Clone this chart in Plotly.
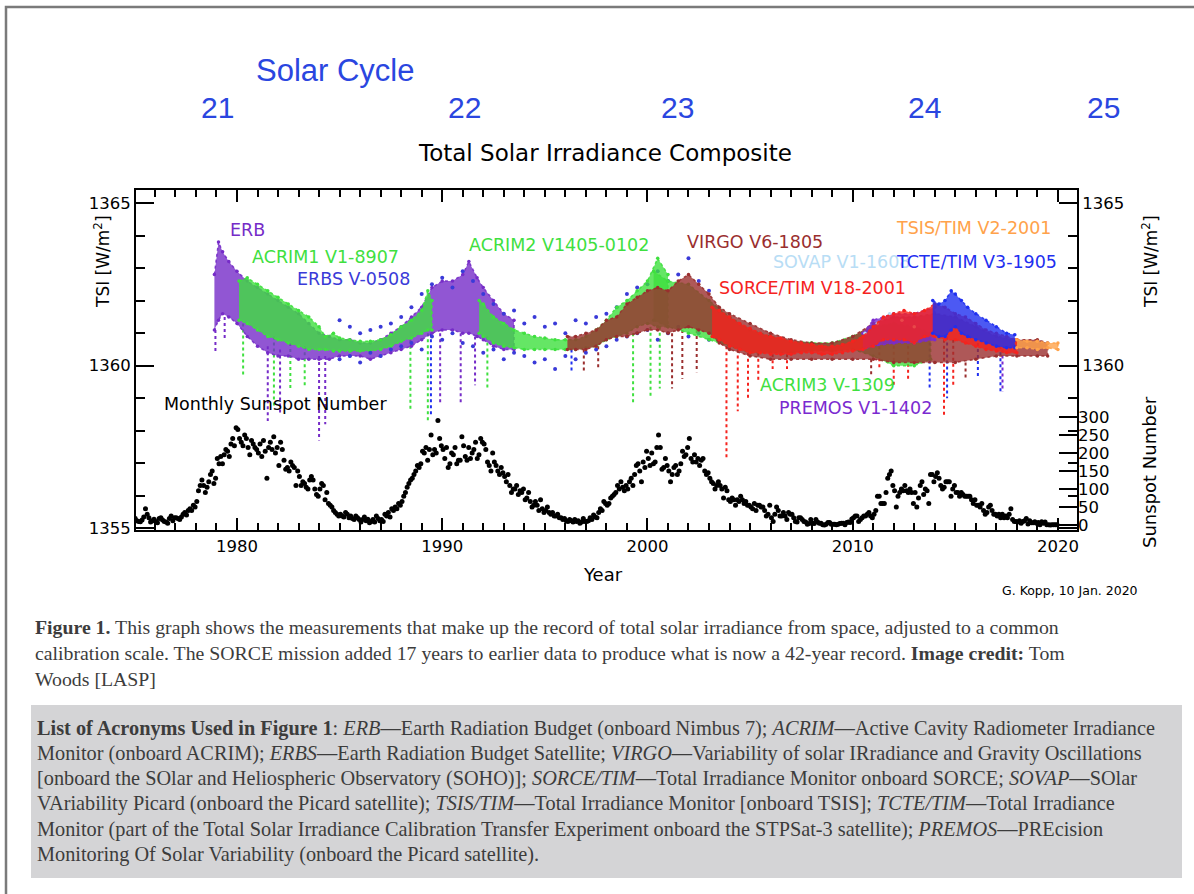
import plotly.graph_objects as go

# ---------------- data ----------------
sunspot_start_year = 1975
sunspot_monthly = [
    18, 12, 10, 9, 14, 22, 45, 30, 20, 8, 12, 16,          # 1975
    10, 6, 18, 20, 14, 10, 8, 5, 18, 25, 12, 20,           # 1976
    20, 18, 15, 22, 30, 35, 28, 40, 45, 40, 55, 50,        # 1977
    65, 95, 110, 125, 110, 90, 105, 120, 140, 150, 115, 130,  # 1978
    185, 170, 190, 170, 195, 210, 205, 190, 225, 240, 220, 270,  # 1979
    265, 240, 230, 220, 250, 240, 215, 195, 235, 225, 215, 210,  # 1980
    200, 225, 190, 235, 205, 130, 215, 230, 210, 245, 200, 215,  # 1981
    165, 230, 210, 180, 155, 160, 150, 175, 165, 160, 110, 150,  # 1982
    135, 110, 120, 115, 105, 100, 125, 135, 125, 100, 85, 80,    # 1983
    100, 115, 110, 70, 90, 60, 55, 50, 40, 35, 30, 25,     # 1984
    30, 25, 22, 35, 30, 20, 25, 18, 15, 25, 20, 15,        # 1985
    8, 15, 22, 12, 16, 6, 10, 15, 8, 25, 18, 12,           # 1986
    15, 10, 30, 25, 35, 22, 45, 40, 50, 45, 60, 55,        # 1987
    65, 80, 90, 105, 115, 125, 130, 140, 150, 165, 160, 170,  # 1988
    205, 200, 215, 180, 210, 250, 195, 210, 200, 290, 240, 220,  # 1989
    210, 185, 215, 160, 170, 200, 195, 215, 170, 180, 180, 245,  # 1990
    220, 190, 180, 215, 185, 200, 210, 230, 185, 195, 240, 230,  # 1991
    225, 210, 175, 165, 150, 200, 175, 165, 150, 140, 160, 145,  # 1992
    135, 120, 140, 110, 90, 100, 100, 110, 85, 95, 90, 100,      # 1993
    70, 75, 90, 65, 50, 55, 65, 55, 40, 70, 45, 35,        # 1994
    40, 50, 35, 30, 35, 25, 25, 30, 20, 20, 15, 18,        # 1995
    12, 10, 15, 12, 8, 15, 10, 12, 5, 8, 18, 10,           # 1996
    10, 12, 20, 15, 28, 22, 20, 35, 45, 40, 65, 60,        # 1997
    55, 60, 75, 80, 85, 90, 110, 100, 120, 105, 95, 110,   # 1998
    100, 120, 130, 110, 140, 165, 170, 150, 120, 175, 160, 205,  # 1999
    185, 165, 200, 170, 175, 215, 250, 215, 155, 160, 185, 165,  # 2000
    150, 120, 140, 160, 165, 140, 150, 170, 205, 190, 195, 215,  # 2001
    240, 185, 175, 195, 175, 185, 165, 180, 185, 150, 140, 145,  # 2002
    130, 120, 115, 100, 110, 120, 110, 100, 75, 105, 95, 70,     # 2003
    65, 75, 70, 55, 70, 65, 80, 70, 60, 65, 55, 55,        # 2004
    50, 45, 60, 40, 55, 55, 50, 50, 40, 25, 30, 55,        # 2005
    20, 10, 30, 50, 40, 25, 25, 35, 25, 15, 35, 30,        # 2006
    30, 20, 10, 8, 20, 20, 15, 10, 8, 2, 4, 15,            # 2007
    5, 4, 15, 8, 5, 5, 1, 0, 2, 7, 7, 2,                   # 2008
    2, 2, 1, 2, 4, 5, 5, 1, 7, 8, 7, 17,                   # 2009
    20, 25, 25, 10, 15, 20, 25, 25, 30, 35, 25, 20,        # 2010
    30, 40, 80, 80, 60, 60, 60, 90, 130, 140, 150, 110,    # 2011
    95, 50, 80, 90, 100, 95, 110, 95, 90, 100, 90, 60,     # 2012
    90, 50, 75, 110, 120, 85, 100, 95, 60, 140, 140, 120,  # 2013
    135, 145, 130, 110, 100, 105, 120, 120, 120, 80, 100, 110,  # 2014
    90, 90, 80, 90, 85, 80, 80, 80, 80, 70, 60, 70,        # 2015
    55, 55, 50, 60, 40, 30, 35, 50, 55, 40, 30, 30,        # 2016
    25, 30, 20, 30, 20, 25, 20, 30, 45, 15, 10, 10,        # 2017
    8, 12, 5, 10, 12, 18, 3, 12, 6, 6, 9, 5,               # 2018
    7, 1, 9, 5, 8, 1, 1, 0, 1, 1, 1, 1,                    # 2019
]

# TSI instrument envelopes (upper / lower edge of each dense point cloud)
erb_years = [1978.9, 1979.1, 1979.3, 1979.6, 1980.0, 1980.5, 1981.0, 1981.5, 1982.0, 1982.5, 1983.0,
             1983.5, 1984.0, 1984.5, 1985.0, 1985.5, 1986.0, 1986.5, 1987.0, 1987.5, 1988.0, 1988.5,
             1989.0, 1989.5, 1990.0, 1990.5, 1991.0, 1991.3, 1991.7, 1992.0, 1992.5, 1993.0, 1993.5]
erb_hi = [1362.8, 1363.8, 1363.5, 1363.2, 1362.9, 1362.6, 1362.4, 1362.2, 1362.0, 1361.8, 1361.6,
          1361.3, 1361.0, 1360.9, 1360.8, 1360.8, 1360.7, 1360.7, 1360.8, 1361.0, 1361.2, 1361.5,
          1361.8, 1362.4, 1362.6, 1362.6, 1362.8, 1363.2, 1362.7, 1362.4, 1362.0, 1361.6, 1361.4]
erb_lo = [1361.1, 1361.4, 1361.6, 1361.5, 1361.3, 1360.9, 1360.6, 1360.4, 1360.3, 1360.3, 1360.2,
          1360.2, 1360.2, 1360.2, 1360.3, 1360.3, 1360.3, 1360.2, 1360.3, 1360.4, 1360.5, 1360.6,
          1360.8, 1361.0, 1361.1, 1361.1, 1361.0, 1361.0, 1360.9, 1360.8, 1360.6, 1360.5, 1360.5]

acrim1_years = [1980.1, 1980.5, 1981.0, 1981.5, 1982.0, 1982.5, 1983.0, 1983.5, 1984.0, 1984.3, 1984.7,
                1985.0, 1985.5, 1986.0, 1986.5, 1987.0, 1987.5, 1988.0, 1988.5, 1989.0, 1989.3, 1989.5]
acrim1_hi = [1362.6, 1362.7, 1362.5, 1362.3, 1362.1, 1361.9, 1361.7, 1361.5, 1361.2, 1360.9, 1361.0,
             1360.85, 1360.8, 1360.75, 1360.75, 1360.8, 1360.95, 1361.2, 1361.4, 1361.7, 1362.3, 1362.0]
acrim1_lo = [1361.4, 1361.3, 1361.1, 1360.9, 1360.8, 1360.7, 1360.6, 1360.5, 1360.5, 1360.5, 1360.45,
             1360.45, 1360.45, 1360.45, 1360.45, 1360.5, 1360.6, 1360.75, 1360.85, 1361.0, 1361.1, 1361.1]

erbs_years = [1985.0, 1985.5, 1986.0, 1986.5, 1987.0, 1987.5, 1988.0, 1988.5, 1989.0, 1989.5, 1990.0,
              1990.5, 1991.0, 1991.5, 1992.0, 1992.5, 1993.0, 1993.5, 1994.0, 1994.5, 1995.0, 1995.5,
              1996.0, 1996.5, 1997.0, 1997.5, 1998.0, 1998.5, 1999.0, 1999.5, 2000.0, 2000.5, 2001.0,
              2001.5, 2002.0, 2002.5, 2003.0]
erbs_hi = [1361.4, 1361.2, 1361.0, 1361.1, 1361.2, 1361.3, 1361.5, 1361.8, 1362.2, 1362.5, 1362.7,
           1362.4, 1362.9, 1362.6, 1362.2, 1361.9, 1361.6, 1361.7, 1361.3, 1361.5, 1361.2, 1361.3,
           1361.0, 1361.4, 1361.3, 1361.5, 1361.6, 1361.8, 1362.2, 1362.4, 1362.5, 1362.9, 1362.6,
           1362.8, 1363.3, 1362.6, 1362.3]
erbs_lo = [1360.2, 1360.3, 1360.1, 1360.4, 1360.3, 1360.5, 1360.6, 1360.7, 1360.5, 1360.9, 1360.8,
           1361.0, 1360.7, 1360.6, 1360.4, 1360.5, 1360.2, 1360.4, 1360.3, 1360.1, 1360.2, 1359.9,
           1360.3, 1360.2, 1360.4, 1360.5, 1360.6, 1360.8, 1360.9, 1361.0, 1361.1, 1360.8, 1361.0,
           1361.2, 1360.9, 1361.0, 1360.8]

acrim2_years = [1991.8, 1992.0, 1992.5, 1993.0, 1993.5, 1994.0, 1994.5, 1995.0, 1995.5, 1996.0,
                1996.5, 1997.0, 1997.5, 1998.0, 1998.5, 1999.0, 1999.5, 2000.0, 2000.5, 2001.0]
acrim2_hi = [1362.0, 1361.9, 1361.5, 1361.3, 1361.1, 1361.0, 1360.9, 1360.85, 1360.8, 1360.8,
             1360.8, 1360.9, 1361.1, 1361.4, 1361.8, 1362.0, 1362.3, 1362.6, 1363.3, 1362.8]
acrim2_lo = [1361.0, 1360.9, 1360.7, 1360.6, 1360.55, 1360.5, 1360.5, 1360.5, 1360.5, 1360.5,
             1360.5, 1360.55, 1360.6, 1360.8, 1360.9, 1361.0, 1361.2, 1361.3, 1361.2, 1361.2]

acrim3_years = [2000.3, 2001.0, 2002.0, 2003.0, 2004.0, 2005.0, 2006.0, 2007.0, 2008.0, 2009.0,
                2010.0, 2011.0, 2012.0, 2013.0, 2013.8]
acrim3_hi = [1362.9, 1362.6, 1362.5, 1362.0, 1361.5, 1361.1, 1360.9, 1360.75, 1360.7, 1360.7,
             1360.9, 1361.2, 1361.3, 1361.2, 1361.0]
acrim3_lo = [1361.4, 1361.2, 1361.0, 1360.8, 1360.6, 1360.4, 1360.4, 1360.4, 1360.45, 1360.45,
             1360.5, 1360.3, 1360.0, 1360.0, 1360.2]

virgo_years = [1996.1, 1996.5, 1997.0, 1997.5, 1998.0, 1998.5, 1999.0, 1999.5, 2000.0, 2000.5, 2001.0,
               2001.5, 2002.0, 2002.5, 2003.0, 2003.5, 2004.0, 2005.0, 2006.0, 2007.0, 2008.0, 2009.0,
               2010.0, 2011.0, 2012.0, 2013.0, 2014.0, 2015.0, 2016.0, 2017.0, 2018.0, 2019.0, 2019.5]
virgo_hi = [1360.9, 1360.9, 1361.0, 1361.1, 1361.4, 1361.5, 1361.9, 1362.1, 1362.3, 1362.4, 1362.3,
            1362.6, 1362.8, 1362.5, 1362.2, 1361.8, 1361.6, 1361.3, 1361.0, 1360.8, 1360.7, 1360.7,
            1360.9, 1361.3, 1361.5, 1361.5, 1361.6, 1361.5, 1361.2, 1360.9, 1360.8, 1360.8, 1360.7]
virgo_lo = [1360.5, 1360.5, 1360.5, 1360.6, 1360.8, 1360.9, 1360.9, 1361.0, 1361.1, 1361.1, 1361.0,
            1361.1, 1361.2, 1361.1, 1361.0, 1360.7, 1360.5, 1360.3, 1360.2, 1360.2, 1360.2, 1360.2,
            1360.2, 1360.2, 1360.1, 1360.1, 1360.1, 1360.1, 1360.2, 1360.3, 1360.3, 1360.3, 1360.3]

premos_years = [2010.5, 2011.0, 2012.0, 2013.0, 2014.0]
premos_hi = [1361.0, 1361.4, 1361.6, 1361.6, 1361.8]
premos_lo = [1360.5, 1360.6, 1360.7, 1360.7, 1360.8]

sovap_years = [2010.6, 2011.2, 2011.8, 2012.4, 2013.0]
sovap_tsi = [1361.0, 1361.3, 1361.6, 1361.4, 1361.2]

sorce_years = [2003.15, 2003.5, 2004.0, 2004.5, 2005.0, 2005.5, 2006.0, 2006.5, 2007.0, 2007.5, 2008.0,
               2008.5, 2009.0, 2009.5, 2010.0, 2010.5, 2011.0, 2011.5, 2012.0, 2012.5, 2013.0, 2013.5,
               2014.0, 2014.5, 2015.0, 2015.5, 2016.0, 2016.5, 2017.0, 2017.5, 2018.0]
sorce_hi = [1361.8, 1361.7, 1361.5, 1361.3, 1361.15, 1361.0, 1360.9, 1360.85, 1360.75, 1360.7, 1360.65,
            1360.6, 1360.6, 1360.65, 1360.75, 1360.9, 1361.2, 1361.5, 1361.6, 1361.7, 1361.6, 1361.7,
            1361.9, 1361.8, 1361.6, 1361.5, 1361.3, 1361.1, 1361.0, 1360.9, 1360.8]
sorce_lo = [1360.9, 1360.8, 1360.6, 1360.5, 1360.4, 1360.4, 1360.35, 1360.35, 1360.35, 1360.4, 1360.4,
            1360.35, 1360.35, 1360.4, 1360.45, 1360.5, 1360.6, 1360.8, 1360.8, 1360.8, 1360.7, 1360.9,
            1360.9, 1360.8, 1360.8, 1360.7, 1360.6, 1360.5, 1360.45, 1360.4, 1360.4]

tcte_years = [2013.9, 2014.2, 2014.5, 2014.8, 2015.0, 2015.3, 2015.6, 2016.0, 2016.5, 2017.0, 2017.5, 2017.9]
tcte_hi = [1362.0, 1361.9, 1362.0, 1362.3, 1362.2, 1362.0, 1361.8, 1361.6, 1361.4, 1361.2, 1361.0, 1360.95]
tcte_lo = [1361.0, 1360.9, 1360.9, 1361.1, 1361.2, 1361.0, 1360.9, 1360.8, 1360.7, 1360.6, 1360.55, 1360.55]

tsis_years = [2018.0, 2018.5, 2019.0, 2019.5, 2020.0]
tsis_hi = [1360.8, 1360.75, 1360.75, 1360.7, 1360.7]
tsis_lo = [1360.55, 1360.55, 1360.5, 1360.55, 1360.5]

# short-lived dips (sunspot passages): year, start level, lowest level, instrument
dip_years = [1978.95, 1979.4, 1981.5, 1982.1, 1984.0, 1984.3, 1989.9, 1990.9, 1991.6,
             1980.3, 1981.8, 1982.6, 1983.3, 1988.45, 1989.3, 1992.2, 1999.3, 2000.15, 2000.6,
             1989.45, 1996.3, 2013.75, 2014.6, 2016.1, 2017.2,
             1996.9, 1997.6, 2001.2, 2001.7, 2002.4, 2010.9, 2015.5,
             2003.85, 2004.4, 2004.9, 2005.4, 2006.1, 2006.8, 2011.3, 2012.0, 2012.7, 2014.45, 2014.9,
             2017.3]
dip_tops = [1361.1, 1361.5, 1360.6, 1360.5, 1360.3, 1360.3, 1361.0, 1361.0, 1360.9,
            1361.3, 1360.9, 1360.7, 1360.6, 1360.8, 1361.0, 1360.9, 1361.0, 1361.2, 1361.2,
            1361.0, 1360.5, 1360.9, 1360.9, 1360.7, 1360.6,
            1360.5, 1360.6, 1361.0, 1361.1, 1361.1, 1360.2, 1360.1,
            1360.6, 1360.5, 1360.4, 1360.4, 1360.35, 1360.35, 1360.6, 1360.8, 1360.8, 1360.8, 1360.8,
            1360.5]
dip_lows = [1360.4, 1360.8, 1358.3, 1358.5, 1357.7, 1358.2, 1358.8, 1358.8, 1359.4,
            1359.7, 1358.7, 1359.3, 1359.4, 1358.6, 1358.3, 1359.3, 1358.8, 1359.0, 1359.3,
            1358.5, 1359.8, 1359.3, 1359.0, 1359.6, 1359.2,
            1359.8, 1359.9, 1359.3, 1359.6, 1359.8, 1359.7, 1359.6,
            1357.1, 1358.6, 1359.0, 1359.5, 1359.9, 1359.9, 1359.9, 1359.4, 1359.6, 1358.4, 1359.4,
            1359.2]
dip_inst = ["ERB"] * 9 + ["ACRIM"] * 10 + ["TCTE"] * 6 + ["VIRGO"] * 7 + ["SORCE"] * 11 + ["PREMOS"]

axis_x_ticks = [1980, 1990, 2000, 2010, 2020]
tsi_ticks = [1355, 1360, 1365]
tsi_right_labels = ["", "1360", "1365"]
sunspot_ticks = [0, 50, 100, 150, 200, 250, 300]
cycle_numbers = ["21", "22", "23", "24", "25"]

# ---------------- styles ----------------
COL = {
    "ERB": "#762cc8", "ACRIM": "#3fe03f", "ERBS": "#3a3ad8", "VIRGO": "#9a2e2e",
    "SORCE": "#f5231e", "TCTE": "#1f2ff0", "TSIS": "#ffa24a", "SOVAP": "#b8ddf5",
    "PREMOS": "#7a2ad0",
}
CYCLE_BLUE = "#2a46e0"
PLOT_FONT = "DejaVu Sans"
SERIF = "Liberation Serif"

W, H = 1194, 894
L, R, T, B = 136, 117, 190, 364
PW, PH = W - L - R, H - T - B


def pxx(x):
    return (x - L) / PW


def pxy(y):
    return (H - B - y) / PH


def rgba(hexc, a):
    h = hexc.lstrip("#")
    return "rgba(%d,%d,%d,%.2f)" % (int(h[0:2], 16), int(h[2:4], 16), int(h[4:6], 16), a)


fig = go.Figure()

# dips first (beneath clouds)
for inst in ["ERB", "ACRIM", "TCTE", "VIRGO", "SORCE", "PREMOS"]:
    xs, ys = [], []
    for yr, top, low, nm in zip(dip_years, dip_tops, dip_lows, dip_inst):
        if nm == inst:
            xs += [yr, yr, None]
            ys += [top, low, None]
    fig.add_trace(go.Scatter(x=xs, y=ys, mode="lines",
                             line=dict(color=COL[inst], width=2, dash="dot"),
                             hoverinfo="skip", showlegend=False))


def band(years, hi, lo, color, alpha=0.8):
    fig.add_trace(go.Scatter(x=list(years) + list(years)[::-1], y=list(hi) + list(lo)[::-1],
                             fill="toself", fillcolor=rgba(color, alpha), mode="lines",
                             line=dict(color=rgba(color, 0.9), width=1.5, dash="dot"),
                             hoverinfo="skip", showlegend=False))
    fig.add_trace(go.Scatter(x=list(years) + list(years), y=list(hi) + list(lo), mode="markers",
                             marker=dict(color=color, size=3.5),
                             hoverinfo="skip", showlegend=False))


band(erb_years, erb_hi, erb_lo, COL["ERB"])
band(acrim1_years, acrim1_hi, acrim1_lo, COL["ACRIM"])
fig.add_trace(go.Scatter(x=erbs_years + erbs_years, y=erbs_hi + erbs_lo, mode="markers",
                         marker=dict(color=COL["ERBS"], size=4), hoverinfo="skip", showlegend=False))
band(acrim2_years, acrim2_hi, acrim2_lo, COL["ACRIM"])
band(acrim3_years, acrim3_hi, acrim3_lo, COL["ACRIM"])
band(virgo_years, virgo_hi, virgo_lo, COL["VIRGO"])
band(premos_years, premos_hi, premos_lo, COL["PREMOS"])
fig.add_trace(go.Scatter(x=sovap_years, y=sovap_tsi, mode="markers",
                         marker=dict(color=COL["SOVAP"], size=3.5), hoverinfo="skip", showlegend=False))
band(sorce_years, sorce_hi, sorce_lo, COL["SORCE"])
band(tcte_years, tcte_hi, tcte_lo, COL["TCTE"])
band(tsis_years, tsis_hi, tsis_lo, COL["TSIS"])

# sunspots on the secondary axis
ss_x = [sunspot_start_year + (i + 0.5) / 12 for i in range(len(sunspot_monthly))]
fig.add_trace(go.Scatter(x=ss_x, y=sunspot_monthly, yaxis="y2", mode="markers",
                         marker=dict(color="black", size=5), hoverinfo="skip", showlegend=False))
# invisible trace to activate the mirrored TSI axis
fig.add_trace(go.Scatter(x=[1976], y=[1356], yaxis="y3", mode="markers",
                         marker=dict(opacity=0), hoverinfo="skip", showlegend=False))

tickfont = dict(family=PLOT_FONT, size=16.5, color="black")
minor_y = dict(dtick=1, ticks="inside", ticklen=9, tickwidth=1.5, tickcolor="black")
tsi_range = [1354.95, 1365.4]

fig.update_layout(
    width=W, height=H, autosize=False,
    margin=dict(l=L, r=R, t=T, b=B, pad=0),
    paper_bgcolor="white", plot_bgcolor="white",
    showlegend=False,
    xaxis=dict(range=[1975.08, 2020.93], tickvals=axis_x_ticks, ticks="inside", ticklen=12,
               tickwidth=2, tickcolor="black", showline=True, linewidth=2, linecolor="black",
               mirror="ticks", showgrid=False, zeroline=False, tickfont=tickfont,
               minor=dict(tick0=1975, dtick=1, ticks="inside", ticklen=7, tickwidth=1.5,
                          tickcolor="black")),
    yaxis=dict(range=tsi_range, tickvals=tsi_ticks, ticks="inside", ticklen=18, tickwidth=2,
               tickcolor="black", showline=True, linewidth=2, linecolor="black",
               showgrid=False, zeroline=False, tickfont=tickfont, minor=minor_y),
    yaxis3=dict(range=tsi_range, tickvals=tsi_ticks, ticktext=tsi_right_labels, overlaying="y",
                side="right", anchor="x",
                ticks="inside", ticklen=18, tickwidth=2, tickcolor="black", showline=True,
                linewidth=2, linecolor="black", showgrid=False, zeroline=False,
                tickfont=tickfont, minor=minor_y),
    yaxis2=dict(range=[-13.9, 930.6], tickvals=sunspot_ticks, overlaying="y", side="right",
                anchor="x", ticks="inside", ticklen=18, tickwidth=2, tickcolor="black",
                showline=False, showgrid=False, zeroline=False, tickfont=tickfont),
)

ann = []


def txt(text, x, y, size, color="black", family=PLOT_FONT, xanchor="center", yanchor="middle",
        angle=0, xref="paper", yref="paper"):
    ann.append(dict(text=text, x=x, y=y, xref=xref, yref=yref, showarrow=False,
                    xanchor=xanchor, yanchor=yanchor, textangle=angle,
                    font=dict(family=family, size=size, color=color)))


# header
txt("Solar Cycle", pxx(335), pxy(71), 31, CYCLE_BLUE, "Liberation Sans")
for lab, xc in zip(cycle_numbers, [217, 464, 677, 924, 1103]):
    txt(lab, pxx(xc), pxy(108), 30, CYCLE_BLUE, "Liberation Sans")
txt("Total Solar Irradiance Composite", pxx(605), pxy(153), 23)

# axis titles
txt("Year", pxx(603), pxy(574), 18)
txt("TSI [W/m<sup>2</sup>]", pxx(102), pxy(262), 17, angle=-90)
txt("TSI [W/m<sup>2</sup>]", pxx(1150), pxy(262), 17, angle=-90)
txt("Sunspot Number", pxx(1149), pxy(472), 18, angle=-90)
txt("G. Kopp, 10 Jan. 2020", pxx(1070), pxy(590), 12.5)


# instrument labels (data coordinates)
def lab(text, year, tsi, color):
    txt(text, year, tsi, 17.5, color, xanchor="left", xref="x", yref="y")


lab("ERB", 1979.55, 1364.17, COL["ERB"])
lab("ACRIM1 V1-8907", 1980.63, 1363.35, COL["ACRIM"])
lab("ERBS V-0508", 1982.83, 1362.68, COL["ERBS"])
lab("ACRIM2 V1405-0102", 1991.22, 1363.72, COL["ACRIM"])
lab("VIRGO V6-1805", 2001.85, 1363.8, COL["VIRGO"])
lab("SOVAP V1-1608", 2006.0, 1363.2, COL["SOVAP"])
lab("SORCE/TIM V18-2001", 2003.41, 1362.4, COL["SORCE"])
lab("TSIS/TIM V2-2001", 2012.0, 1364.24, COL["TSIS"])
lab("TCTE/TIM V3-1905", 2012.0, 1363.2, COL["TCTE"])
lab("ACRIM3 V-1309", 2005.37, 1359.4, COL["ACRIM"])
lab("PREMOS V1-1402", 2006.3, 1358.7, COL["PREMOS"])
lab("Monthly Sunspot Number", 1976.34, 1358.82, "black")

# caption
cap_col = "#3c3c3c"
caption_lines = [
    "<b>Figure 1.</b> This graph shows the measurements that make up the record of total solar irradiance from space, adjusted to a common",
    "calibration scale. The SORCE mission added 17 years to earlier data to produce what is now a 42-year record. <b>Image credit:</b> Tom",
    "Woods [LASP]",
]
for i, line in enumerate(caption_lines):
    txt(line, pxx(33), pxy(627 + 26 * i), 19.8, cap_col, SERIF, xanchor="left")

box_lines = [
    "<b>List of Acronyms Used in Figure 1</b>: <i>ERB</i>—Earth Radiation Budget (onboard Nimbus 7); <i>ACRIM</i>—Active Cavity Radiometer Irradiance",
    "Monitor (onboard ACRIM); <i>ERBS</i>—Earth Radiation Budget Satellite; <i>VIRGO</i>—Variability of solar IRradiance and Gravity Oscillations",
    "[onboard the SOlar and Heliospheric Observatory (SOHO)]; <i>SORCE/TIM</i>—Total Irradiance Monitor onboard SORCE; <i>SOVAP</i>—SOlar",
    "VAriability Picard (onboard the Picard satellite); <i>TSIS/TIM</i>—Total Irradiance Monitor [onboard TSIS]; <i>TCTE/TIM</i>—Total Irradiance",
    "Monitor (part of the Total Solar Irradiance Calibration Transfer Experiment onboard the STPSat-3 satellite); <i>PREMOS</i>—PREcision",
    "Monitoring Of Solar Variability (onboard the Picard satellite).",
]
for i, line in enumerate(box_lines):
    txt(line, pxx(35), pxy(728 + 25.3 * i), 20.3, cap_col, SERIF, xanchor="left")

fig.update_layout(annotations=ann)

fig.update_layout(shapes=[
    dict(type="rect", xref="paper", yref="paper", x0=pxx(31), x1=pxx(1182), y0=pxy(705), y1=pxy(878),
         fillcolor="#d4d4d6", line=dict(width=0), layer="below"),
    dict(type="rect", xref="paper", yref="paper", x0=pxx(6), x1=pxx(1210), y0=pxy(7), y1=pxy(910),
         fillcolor="rgba(0,0,0,0)", line=dict(color="#7a7a7a", width=2.5), layer="above"),
])

fig.write_html("out.html", config={"displayModeBar": False},
               post_script="document.body.style.margin='0';")
